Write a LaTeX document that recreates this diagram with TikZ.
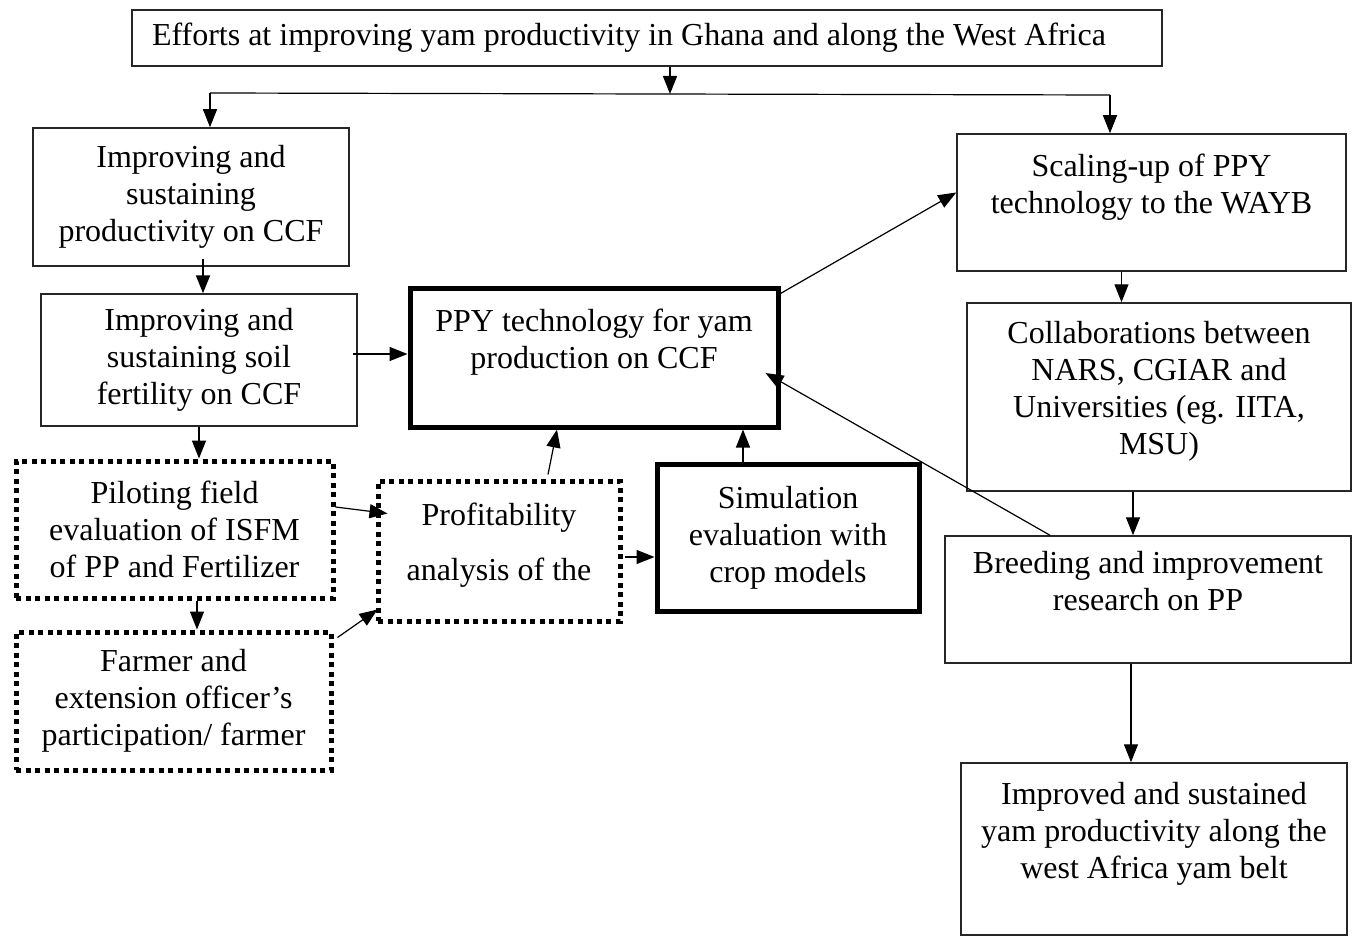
\documentclass[tikz,border=0pt]{standalone}
\usepackage{fontspec}
\setmainfont{Liberation Serif}
\usetikzlibrary{arrows.meta,calc}
\begin{document}
\begin{tikzpicture}[x=1pt,y=-1pt,
  txtfont/.style={font=\fontsize{32}{37}\selectfont},
  box/.style={draw=black!85,line width=1.5pt,rectangle,inner sep=0pt,align=center,txtfont},
  thickbox/.style={box,draw=black,line width=5pt},
  dotbox/.style={box,draw=black,line width=5pt,dash pattern=on 5pt off 4.5pt},
  arr/.style={line width=1.2pt,-{Triangle[length=18pt,width=14pt]}},
  plain/.style={line width=1.2pt}
]
\useasboundingbox (0,0) rectangle (1353,939);

% boxes
\node[box,minimum width=1030pt,minimum height=56pt,text width=990pt,align=flush left] (top) at (647,38)
  {Efforts at improving yam productivity in Ghana and along the West Africa};
\node[box,minimum width=316pt,minimum height=138pt] (A) at (191,197)
  {Improving and\\sustaining\\productivity on CCF};
\node[box,minimum width=316pt,minimum height=132pt] (B) at (199,360)
  {Improving and\\sustaining soil\\fertility on CCF};
\node[thickbox,minimum width=368pt,minimum height=139pt] (ppy) at (594,357.5)
  {PPY technology for yam\\production on CCF\\\null};
\node[thickbox,minimum width=262pt,minimum height=147pt] (sim) at (788,537.5)
  {Simulation\\evaluation with\\crop models};
\node[dotbox,minimum width=242pt,minimum height=140pt] (prof) at (499,551)
  {Profitability\\[18pt]analysis of the\\[-18pt]\null};
\node[dotbox,minimum width=317pt,minimum height=137pt] (pilot) at (174.5,529.5)
  {Piloting field\\evaluation of ISFM\\of PP and Fertilizer};
\node[dotbox,minimum width=315pt,minimum height=138pt] (farmer) at (173.5,701)
  {Farmer and\\extension officer's\\participation/ farmer};
\node[box,minimum width=389pt,minimum height=137pt] (scal) at (1151.5,202.5)
  {Scaling-up of PPY\\technology to the WAYB\\\null};
\node[box,minimum width=384pt,minimum height=188pt] (collab) at (1159,397)
  {Collaborations between\\NARS, CGIAR and\\Universities (eg. IITA,\\MSU)\\[-18pt]\null};
\node[box,minimum width=406pt,minimum height=127pt] (breed) at (1148,599.5)
  {Breeding and improvement\\research on PP\\\null};
\node[box,minimum width=386pt,minimum height=172pt] (impr) at (1154,849)
  {Improved and sustained\\yam productivity along the\\west Africa yam belt\\\null};

% junction
\coordinate (j) at (670,94);
\coordinate (jl) at (210,93);
\coordinate (jr) at (1110,95);
\draw[arr] (top.south -| j) -- (j);
\draw[plain] (jl) -- (jr);
\draw[arr] (jl) -- (A.north -| jl);
\draw[arr] (jr) -- (scal.north -| jr);

% start points
\coordinate (a1) at ($(A.south)+(12,-8)$);
\coordinate (b1) at ($(B.east)+(-5,-6)$);
\coordinate (p1) at ($(B.south |- pilot.south)+(-2,0)$);
\coordinate (f1) at ($(B.south |- farmer.north)+(-2,0)$);
\coordinate (r1) at ($(prof.east)+(2,6)$);
\coordinate (s1) at ($(sim.north)+(-45,0)$);
\coordinate (c1) at ($(scal.south)+(-30,0)$);
\coordinate (d1) at ($(collab.south)+(-26,0)$);
\coordinate (e1) at ($(breed.south)+(-17,0)$);

% left column
\draw[arr,line width=2pt] (a1) -- (a1 |- B.north);
\draw[arr] (b1) -- (b1 -| ppy.west);
\draw[arr] (B.south) -- (B.south |- pilot.north);
\draw[arr] (p1) -- (f1);
\draw[arr] ($(pilot.east)+(0,-22.5)$) -- ($(prof.north west)+(12,35)$);
\draw[arr] ($(farmer.north east)+(4,8)$) -- ($(prof.south west)+(2,-14)$);
\draw[arr] ($(prof.north)+(49,-4)$) -- ($(ppy.south)+(-37,0)$);
\draw[arr] (r1) -- (r1 -| sim.west);
\draw[arr] (s1) -- (s1 |- ppy.south);

% right column
\draw[arr] ($(ppy.north east)+(0,8)$) -- ($(scal.west)+(0,-10)$);
\draw[arr] (c1) -- (c1 |- collab.north);
\draw[arr] (d1) -- (d1 |- breed.north);
\draw[arr] ($(breed.north)+(-98,0)$) -- ($(ppy.east)+(-15,15.5)$);
\draw[arr] (e1) -- (e1 |- impr.north);
\end{tikzpicture}
\end{document}
